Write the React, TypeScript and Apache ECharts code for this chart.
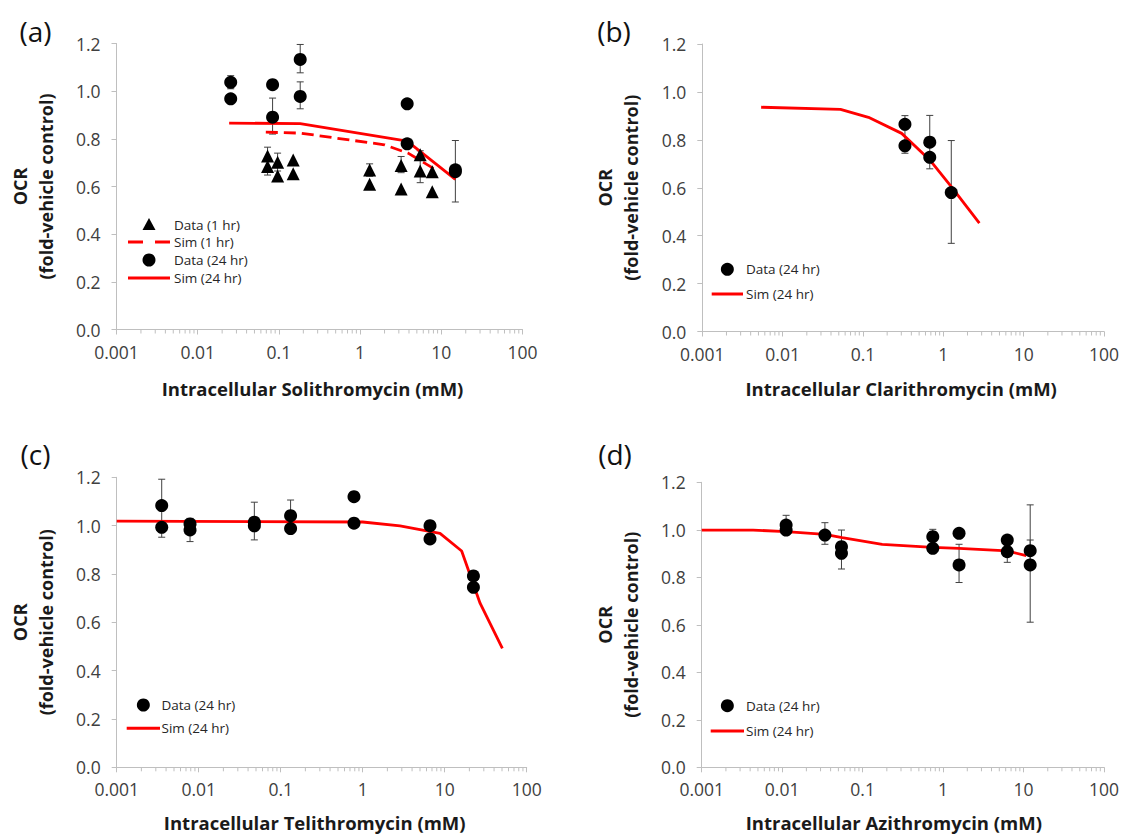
import React, { useEffect, useRef } from "react";
import * as echarts from "echarts";

// ---------- data ----------
const xTickLabels = ["0.001", "0.01", "0.1", "1", "10", "100"];
const xTitles = [
  "Intracellular Solithromycin (mM)",
  "Intracellular Clarithromycin (mM)",
  "Intracellular Telithromycin (mM)",
  "Intracellular Azithromycin (mM)",
];
const panelLabels = ["(a)", "(b)", "(c)", "(d)"];
const yTitle = "OCR\n(fold-vehicle control)";
const NAME_D1 = "Data (1 hr)";
const NAME_S1 = "Sim (1 hr)";
const NAME_D24 = "Data (24 hr)";
const NAME_S24 = "Sim (24 hr)";

// Panel (a) Solithromycin
const aData1h = [
  [0.0725, 0.728], [0.0725, 0.684], [0.0964, 0.702], [0.0964, 0.644],
  [0.15, 0.711], [0.15, 0.653], [1.31, 0.669], [1.31, 0.609],
  [3.2, 0.688], [3.2, 0.589], [5.5, 0.733], [5.5, 0.665],
  [7.74, 0.662], [7.74, 0.578],
];
const aData24h = [
  [0.0255, 1.037], [0.0255, 0.968], [0.0836, 1.027], [0.0836, 0.891],
  [0.183, 1.133], [0.183, 0.978], [3.8, 0.947], [3.8, 0.779],
  [14.9, 0.662], [14.9, 0.67],
];
const aSim1h = [[0.069, 0.828], [0.183, 0.824], [2.0, 0.775], [3.9, 0.74], [8.0, 0.676]];
const aSim24h = [[0.0244, 0.866], [0.183, 0.864], [3.8, 0.79], [14.9, 0.63]];
const aErr = [
  [0.0255, 1.01, 1.065], [0.0836, 0.82, 0.971], [0.183, 1.077, 1.196],
  [0.183, 0.926, 1.039], [14.9, 0.535, 0.793],
  [0.0725, 0.648, 0.765], [0.0964, 0.665, 0.74], [1.31, 0.643, 0.695],
  [3.2, 0.658, 0.726], [5.5, 0.616, 0.75],
];

// Panel (b) Clarithromycin
const bData24h = [[0.333, 0.865], [0.333, 0.775], [0.678, 0.79], [0.678, 0.727], [1.256, 0.58]];
const bSim24h = [
  [0.0054, 0.936], [0.0525, 0.927], [0.117, 0.894], [0.303, 0.827],
  [0.678, 0.716], [1.256, 0.605], [2.81, 0.452],
];
const bErr = [[0.333, 0.744, 0.901], [0.678, 0.679, 0.902], [1.256, 0.368, 0.797]];

// Panel (c) Telithromycin
const cData24h = [
  [0.00354, 1.083], [0.00354, 0.993], [0.00784, 1.007], [0.00784, 0.982],
  [0.0477, 1.014], [0.0477, 0.999], [0.132, 1.041], [0.132, 0.988],
  [0.783, 1.12], [0.783, 1.01], [6.62, 1.0], [6.62, 0.945],
  [22.4, 0.792], [22.4, 0.745],
];
const cSim24h = [
  [0.001, 1.019], [1, 1.015], [2.85, 0.999], [8.77, 0.968],
  [16.1, 0.895], [27, 0.679], [50.5, 0.492],
];
const cErr = [
  [0.00354, 0.952, 1.192], [0.00784, 0.934, 1.03],
  [0.0477, 0.941, 1.097], [0.132, 0.98, 1.106],
];

// Panel (d) Azithromycin
const dData24h = [
  [0.0112, 1.02], [0.0112, 0.999], [0.034, 0.978], [0.0546, 0.929], [0.0546, 0.901],
  [0.745, 0.971], [0.745, 0.922], [1.58, 0.985], [1.58, 0.852],
  [6.28, 0.957], [6.28, 0.908], [12.1, 0.912], [12.1, 0.852],
];
const dSim24h = [
  [0.001, 0.999], [0.00435, 0.999], [0.0112, 0.992], [0.034, 0.981],
  [0.0557, 0.967], [0.175, 0.939], [0.745, 0.926], [1.58, 0.922],
  [6.28, 0.911], [10.8, 0.891],
];
const dErr = [
  [0.0112, 0.98, 1.061], [0.034, 0.939, 1.03], [0.0546, 0.835, 0.999],
  [0.745, 0.9, 1.002], [1.58, 0.778, 0.939], [6.28, 0.863, 0.96],
  [12.1, 0.611, 1.105], [12.1, 0.852, 0.957],
];

// log-axis minor tick positions (2..9 in each decade)
const minorTicks: number[][] = [];
for (let e = -3; e <= 1; e++) {
  for (let m = 2; m <= 9; m++) minorTicks.push([m * Math.pow(10, e), 0]);
}

// ---------- layout ----------
const FONT = "'Open Sans', sans-serif";
const grids = [
  { left: 116.5, top: 43.5, width: 406, height: 286 },
  { left: 702.3, top: 44, width: 404, height: 287.5 },
  { left: 116.7, top: 477.3, width: 410, height: 290 },
  { left: 701.7, top: 482.3, width: 404.3, height: 285 },
];
const labelPos = [[35.5, 31], [614, 31], [35.5, 454], [615, 454]];
const xNameGap = [49.5, 48, 46, 46];
const xNamePad = [14, 4, 14, 18];

// manual legends
const legendLayout = [
  { left: 128, width: 42, textX: 174, ys: [224.5, 242, 260, 278], kinds: ["tri", "dash", "circ", "line"], names: [NAME_D1, NAME_S1, NAME_D24, NAME_S24] },
  { left: 711.7, width: 31.3, textX: 746, ys: [269.3, 294], kinds: ["circ", "line"], names: [NAME_D24, NAME_S24] },
  { left: 126.7, width: 33.3, textX: 161.5, ys: [705, 728.3], kinds: ["circ", "line"], names: [NAME_D24, NAME_S24] },
  { left: 710.7, width: 33.3, textX: 746, ys: [705.7, 731], kinds: ["circ", "line"], names: [NAME_D24, NAME_S24] },
];

const AXIS_GRAY = "#bfbfbf";
const RED = "#ff0000";

function errorSeries(idx: number, data: number[][]) {
  return {
    type: "custom",
    name: "err" + idx,
    xAxisIndex: idx,
    yAxisIndex: idx,
    silent: true,
    z: 1,
    encode: { x: 0, y: [1, 2] },
    data,
    renderItem: (params: any, api: any) => {
      const x = api.value(0);
      const top = api.coord([x, api.value(2)]);
      const bot = api.coord([x, api.value(1)]);
      const w = 3.5;
      const style = { stroke: "#404040", lineWidth: 1 };
      return {
        type: "group",
        children: [
          { type: "line", shape: { x1: top[0], y1: top[1], x2: bot[0], y2: bot[1] }, style },
          { type: "line", shape: { x1: top[0] - w, y1: top[1], x2: top[0] + w, y2: top[1] }, style },
          { type: "line", shape: { x1: bot[0] - w, y1: bot[1], x2: bot[0] + w, y2: bot[1] }, style },
        ],
      };
    },
  };
}

function minorTickSeries(idx: number) {
  return {
    type: "custom",
    name: "minor" + idx,
    xAxisIndex: idx,
    yAxisIndex: idx,
    silent: true,
    z: 0,
    data: minorTicks,
    renderItem: (params: any, api: any) => {
      const p = api.coord([api.value(0), 0]);
      return {
        type: "line",
        shape: { x1: p[0], y1: p[1], x2: p[0], y2: p[1] + 4 },
        style: { stroke: AXIS_GRAY, lineWidth: 1 },
      };
    },
  };
}

function scatter(idx: number, name: string, data: number[][], symbol = "circle") {
  return {
    type: "scatter",
    name,
    xAxisIndex: idx,
    yAxisIndex: idx,
    symbol,
    symbolSize: 13,
    itemStyle: { color: "#000", opacity: 1 },
    z: 5,
    data,
  };
}

function simLine(idx: number, name: string, data: number[][], dashed = false) {
  return {
    type: "line",
    name,
    xAxisIndex: idx,
    yAxisIndex: idx,
    symbol: "none",
    z: 3,
    lineStyle: { color: RED, width: 2.8, type: dashed ? [12, 6] : "solid" },
    itemStyle: { color: RED },
    data,
  };
}

function legendGraphics() {
  const els: any[] = [];
  legendLayout.forEach((L) => {
    L.ys.forEach((y, k) => {
      const kind = L.kinds[k];
      const cx = L.left + L.width / 2;
      if (kind === "circ") {
        els.push({ type: "circle", shape: { cx, cy: y, r: 6.5 }, style: { fill: "#000" } });
      } else if (kind === "tri") {
        els.push({
          type: "polygon",
          shape: { points: [[cx, y - 6.5], [cx + 6.5, y + 5.5], [cx - 6.5, y + 5.5]] },
          style: { fill: "#000" },
        });
      } else {
        els.push({
          type: "line",
          shape: { x1: L.left, y1: y, x2: L.left + L.width, y2: y },
          style: { stroke: RED, lineWidth: 3, lineDash: kind === "dash" ? [15, 12] : null },
        });
      }
      els.push({
        type: "text",
        x: L.textX,
        y,
        style: {
          text: L.names[k],
          fontSize: 13.5,
          lineHeight: 14,
          fontFamily: FONT,
          fill: "#262626",
          align: "left",
          verticalAlign: "middle",
        },
      });
    });
  });
  return els;
}

export default function App() {
  const ref = useRef<HTMLDivElement>(null);
  useEffect(() => {
    document.body.style.margin = "0";
    if (!ref.current) return;
    const chart = echarts.init(ref.current, undefined, { renderer: "svg" });

    const xAxis = grids.map((_, i) => ({
      type: "log",
      logBase: 10,
      gridIndex: i,
      min: 0.001,
      max: 100,
      axisLine: { show: true, lineStyle: { color: AXIS_GRAY, width: 1 } },
      axisTick: { show: true, length: 5, lineStyle: { color: AXIS_GRAY } },
      splitLine: { show: false },
      axisLabel: {
        fontSize: 17.5,
        color: "#404040",
        fontFamily: FONT,
        margin: 13,
        formatter: (v: number) => xTickLabels[Math.round(Math.log10(v)) + 3],
      },
      name: xTitles[i],
      nameLocation: "middle",
      nameGap: xNameGap[i],
      nameTextStyle: {
        fontSize: 18.5,
        lineHeight: 18,
        fontWeight: "bold",
        color: "#1a1a1a",
        fontFamily: FONT,
        padding: [0, xNamePad[i], 0, 0],
      },
    }));

    const yAxis = grids.map((_, i) => ({
      type: "value",
      gridIndex: i,
      min: 0,
      max: 1.2,
      interval: 0.2,
      axisLine: { show: true, lineStyle: { color: AXIS_GRAY, width: 1 } },
      axisTick: { show: true, length: 5, lineStyle: { color: AXIS_GRAY } },
      splitLine: { show: false },
      axisLabel: {
        fontSize: 17.5,
        color: "#404040",
        fontFamily: FONT,
        margin: 16,
        formatter: (v: number) => v.toFixed(1),
      },
      name: yTitle,
      nameLocation: "middle",
      nameRotate: 90,
      nameGap: 58,
      nameTextStyle: {
        fontSize: 18,
        fontWeight: "bold",
        lineHeight: 26,
        color: "#1a1a1a",
        fontFamily: FONT,
      },
    }));

    const option: any = {
      animation: false,
      backgroundColor: "#fff",
      textStyle: { fontFamily: FONT },
      grid: grids.map((g) => ({ ...g, containLabel: false })),
      xAxis,
      yAxis,
      graphic: [
        ...panelLabels.map((t, i) => ({
          type: "text",
          x: labelPos[i][0],
          y: labelPos[i][1],
          style: {
            text: t,
            fontSize: 28,
            fontFamily: FONT,
            fill: "#111",
            align: "center",
            verticalAlign: "middle",
          },
        })),
        ...legendGraphics(),
      ],
      series: [
        minorTickSeries(0), minorTickSeries(1), minorTickSeries(2), minorTickSeries(3),
        errorSeries(0, aErr), errorSeries(1, bErr), errorSeries(2, cErr), errorSeries(3, dErr),
        simLine(0, NAME_S1, aSim1h, true),
        simLine(0, NAME_S24, aSim24h),
        scatter(0, NAME_D1, aData1h, "triangle"),
        scatter(0, NAME_D24, aData24h),
        simLine(1, NAME_S24, bSim24h),
        scatter(1, NAME_D24, bData24h),
        simLine(2, NAME_S24, cSim24h),
        scatter(2, NAME_D24, cData24h),
        simLine(3, NAME_S24, dSim24h),
        scatter(3, NAME_D24, dData24h),
      ],
    };
    chart.setOption(option);
    return () => chart.dispose();
  }, []);
  return <div ref={ref} style={{ width: 1122, height: 836 }} />;
}
